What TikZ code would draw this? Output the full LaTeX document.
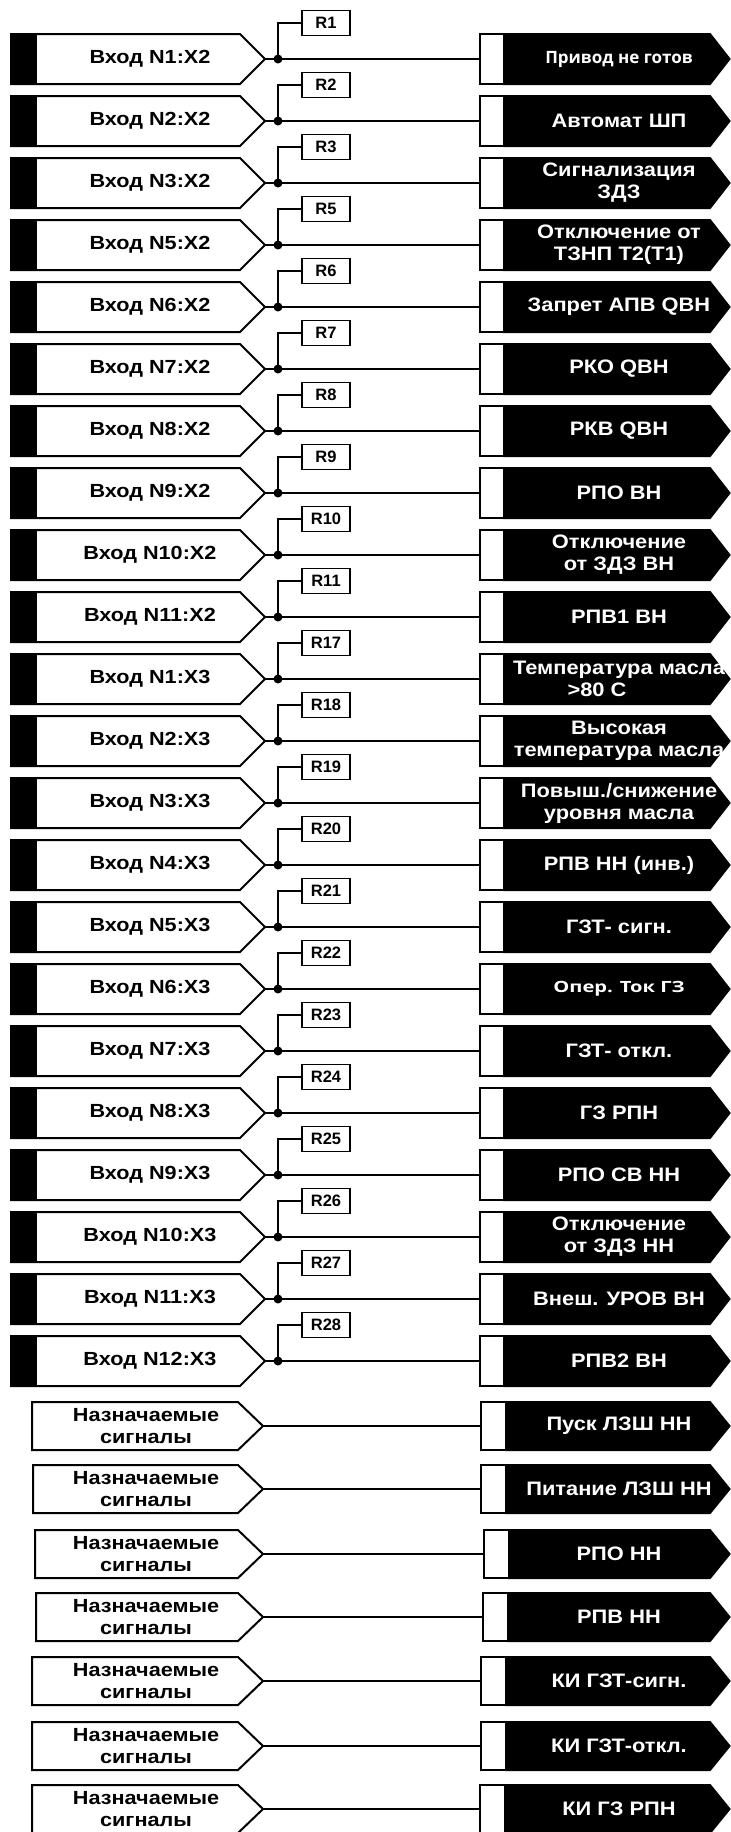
\documentclass[tikz,border=0pt]{standalone}
\usepackage{fontspec}
\setmainfont{Liberation Sans}
\newfontfamily\wb{Liberation Sans}[FakeStretch=1.14]
\newfontfamily\wo{Liberation Sans}[FakeStretch=1.12]
\newfontfamily\osans{Open Sans}
\newfontfamily\osw{Open Sans}[FakeStretch=1.3]
\begin{document}
\begin{tikzpicture}[x=1pt,y=-1pt,line width=2pt,line join=miter]
\useasboundingbox (0,0) rectangle (731,1832);
\tikzset{
  inshape/.style={draw=black,fill=white},
  outshape/.style={draw=black,fill=black},
  intext/.style={font=\wb\bfseries\fontsize{19}{22}\selectfont,align=center,inner sep=0pt},
  outtext/.style={text=white,font=\wo\bfseries\fontsize{19.5}{22}\selectfont,align=center,inner sep=0pt},
  rbox/.style={draw=black,fill=white,line width=1.6pt,minimum width=48pt,minimum height=25pt,inner sep=0pt,font=\bfseries\fontsize{16.5}{18}\selectfont},
  link/.style={draw=black,line width=2pt},
  jdot/.style={fill=black}
}
\foreach \i/\lab/\r/\out in {
 0/{Вход N1:X2}/R1/{{\osans\fontsize{17}{22}\selectfont Привод не готов}},
 1/{Вход N2:X2}/R2/{Автомат ШП},
 2/{Вход N3:X2}/R3/{Сигнализация\\ЗДЗ},
 3/{Вход N5:X2}/R5/{Отключение от\\ТЗНП Т2(Т1)},
 4/{Вход N6:X2}/R6/{Запрет АПВ QВН},
 5/{Вход N7:X2}/R7/{РКО QВН},
 6/{Вход N8:X2}/R8/{РКВ QВН},
 7/{Вход N9:X2}/R9/{РПО ВН},
 8/{Вход N10:X2}/R10/{Отключение\\от ЗДЗ ВН},
 9/{Вход N11:X2}/R11/{РПВ1 ВН},
 10/{Вход N1:X3}/R17/{Температура масла\\>80 С\rule{44pt}{0pt}},
 11/{Вход N2:X3}/R18/{Высокая\\температура масла},
 12/{Вход N3:X3}/R19/{Повыш./снижение\\уровня масла},
 13/{Вход N4:X3}/R20/{РПВ НН (инв.)},
 14/{Вход N5:X3}/R21/{ГЗТ- сигн.},
 15/{Вход N6:X3}/R22/{{\osw\fontsize{15.5}{22}\selectfont Опер. Ток ГЗ}},
 16/{Вход N7:X3}/R23/{ГЗТ- откл.},
 17/{Вход N8:X3}/R24/{ГЗ РПН},
 18/{Вход N9:X3}/R25/{РПО СВ НН},
 19/{Вход N10:X3}/R26/{Отключение\\от ЗДЗ НН},
 20/{Вход N11:X3}/R27/{Внеш. УРОВ ВН},
 21/{Вход N12:X3}/R28/{РПВ2 ВН}}
{
  \pgfmathsetmacro\c{59+62*\i}
  % input block
  \path[inshape] (11,\c-25) -- (240,\c-25) -- (265,\c) -- (240,\c+25) -- (11,\c+25) -- cycle;
  \fill[black] (11,\c-25) rectangle (37,\c+25);
  \draw (11,\c-25) -- (11,\c+25);
  \node[intext] (in\i) at (150,\c) {\lab};
  \coordinate (tip\i) at (265,\c);
  \coordinate (dot\i) at (278,\c);
  % output block
  \path[outshape] (504,\c-25) -- (710,\c-25) -- (729.5,\c) -- (710,\c+25) -- (504,\c+25) -- cycle;
  \path[draw=black,fill=white] (480,\c-25) rectangle (504,\c+25);
  \coordinate (ol\i) at (480,\c);
  \node[outtext] (out\i) at (619,\c) {\out};
  % relay box
  \node[rbox] (r\i) at (326,\c-36) {\r};
  % connectors
  \draw[link] (tip\i) -- (ol\i);
  \draw[link] (dot\i) |- (r\i.west);
  \fill[jdot] (dot\i) circle (4.5pt);
}
\foreach \c/\xl/\ol/\out [count=\k] in {
 1426/32/481/{Пуск ЛЗШ НН},
 1489/33/481/{Питание ЛЗШ НН},
 1554/35/484/{РПО НН},
 1617/36/483/{РПВ НН},
 1681/32/481/{КИ ГЗТ-сигн.},
 1746/32/481/{КИ ГЗТ-откл.},
 1809/32/480/{КИ ГЗ РПН}}
{
  \path[inshape] (\xl,\c-24) -- (238,\c-24) -- (263,\c) -- (238,\c+24) -- (\xl,\c+24) -- cycle;
  \node[intext] (ain\k) at (146,\c) {Назначаемые\\сигналы};
  \coordinate (atip\k) at (263,\c);
  \path[outshape] (\ol+25,\c-24) -- (710,\c-24) -- (729.5,\c) -- (710,\c+24) -- (\ol+25,\c+24) -- cycle;
  \path[draw=black,fill=white] (\ol,\c-24) rectangle (\ol+25,\c+24);
  \coordinate (aol\k) at (\ol,\c);
  \node[outtext] (aout\k) at (619,\c) {\out};
  \draw[link] (atip\k) -- (aol\k);
}
\end{tikzpicture}
\end{document}
